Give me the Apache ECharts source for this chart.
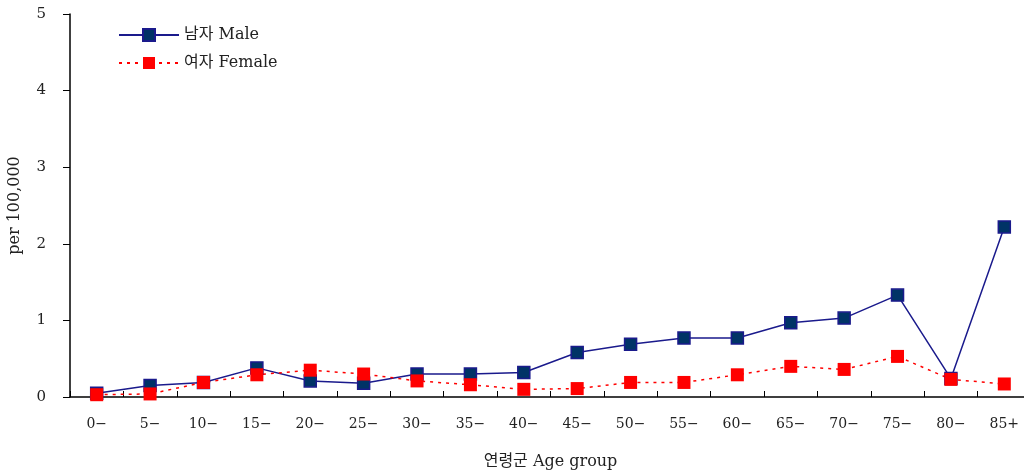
<!DOCTYPE html>
<html><head><meta charset="utf-8">
<script src="https://cdn.jsdelivr.net/npm/echarts@6/dist/echarts.min.js"></script>
<style>html,body{margin:0;padding:0;background:#fff}#c{width:1024px;height:474px}</style>
</head><body><div id="c"></div>
<script>
const categories = ["0−","5−","10−","15−","20−","25−","30−","35−","40−","45−","50−","55−","60−","65−","70−","75−","80−","85+"];
const maleValues = [0.05,0.15,0.19,0.38,0.21,0.18,0.30,0.30,0.32,0.58,0.69,0.77,0.77,0.97,1.03,1.33,0.24,2.22];
const femaleValues = [0.03,0.04,0.19,0.29,0.35,0.30,0.21,0.16,0.10,0.11,0.19,0.19,0.29,0.40,0.36,0.53,0.23,0.17];
const yTicks = [0,1,2,3,4,5];
const maleName = "남자 Male";
const femaleName = "여자 Female";
const xName = "연령군 Age group";
const yName = "per 100,000";

const FONT = "'DejaVu Serif','Noto Sans CJK KR',serif";
const chart = echarts.init(document.getElementById('c'));
chart.setOption({
  animation:false,
  backgroundColor:'#fff',
  textStyle:{fontFamily:FONT},
  grid:{left:70, top:14, bottom:77, width:961, containLabel:false, outerBoundsMode:'none'},
  legend:{
    orient:'vertical', left:113, top:22,
    itemWidth:60, itemHeight:15, itemGap:12,
    textStyle:{fontFamily:FONT, fontSize:16, color:'#222'},
    data:[maleName, femaleName]
  },
  xAxis:{
    type:'category', data:categories, boundaryGap:true,
    name:xName, nameLocation:'middle', nameGap:57,
    nameTextStyle:{fontFamily:FONT, fontSize:16, color:'#222'},
    axisLine:{lineStyle:{color:'#000', width:1.5}},
    axisTick:{show:true, inside:true, length:6, lineStyle:{color:'#000'}},
    axisLabel:{fontFamily:FONT, fontSize:14, color:'#222', margin:20, interval:0}
  },
  yAxis:{
    type:'value', min:yTicks[0], max:yTicks[yTicks.length-1], interval:1,
    name:yName, nameLocation:'middle', nameGap:47, nameRotate:90,
    nameTextStyle:{fontFamily:FONT, fontSize:16, color:'#222'},
    axisLine:{show:true, lineStyle:{color:'#000', width:1.5}},
    axisTick:{show:true, length:7, lineStyle:{color:'#000'}},
    axisLabel:{fontFamily:FONT, fontSize:15, color:'#222', margin:24},
    splitLine:{show:false}
  },
  series:[
    {
      name:maleName, type:'line', data:maleValues,
      symbol:'rect', symbolSize:12,
      lineStyle:{color:'#1a1a8c', width:1.5},
      itemStyle:{color:'#003366', borderColor:'#1a1a8c', borderWidth:1.5}
    },
    {
      name:femaleName, type:'line', data:femaleValues,
      symbol:'rect', symbolSize:13,
      lineStyle:{color:'#ff0000', width:1.5, type:[3,5]},
      itemStyle:{color:'#ff0000'}
    }
  ]
});
</script></body></html>
